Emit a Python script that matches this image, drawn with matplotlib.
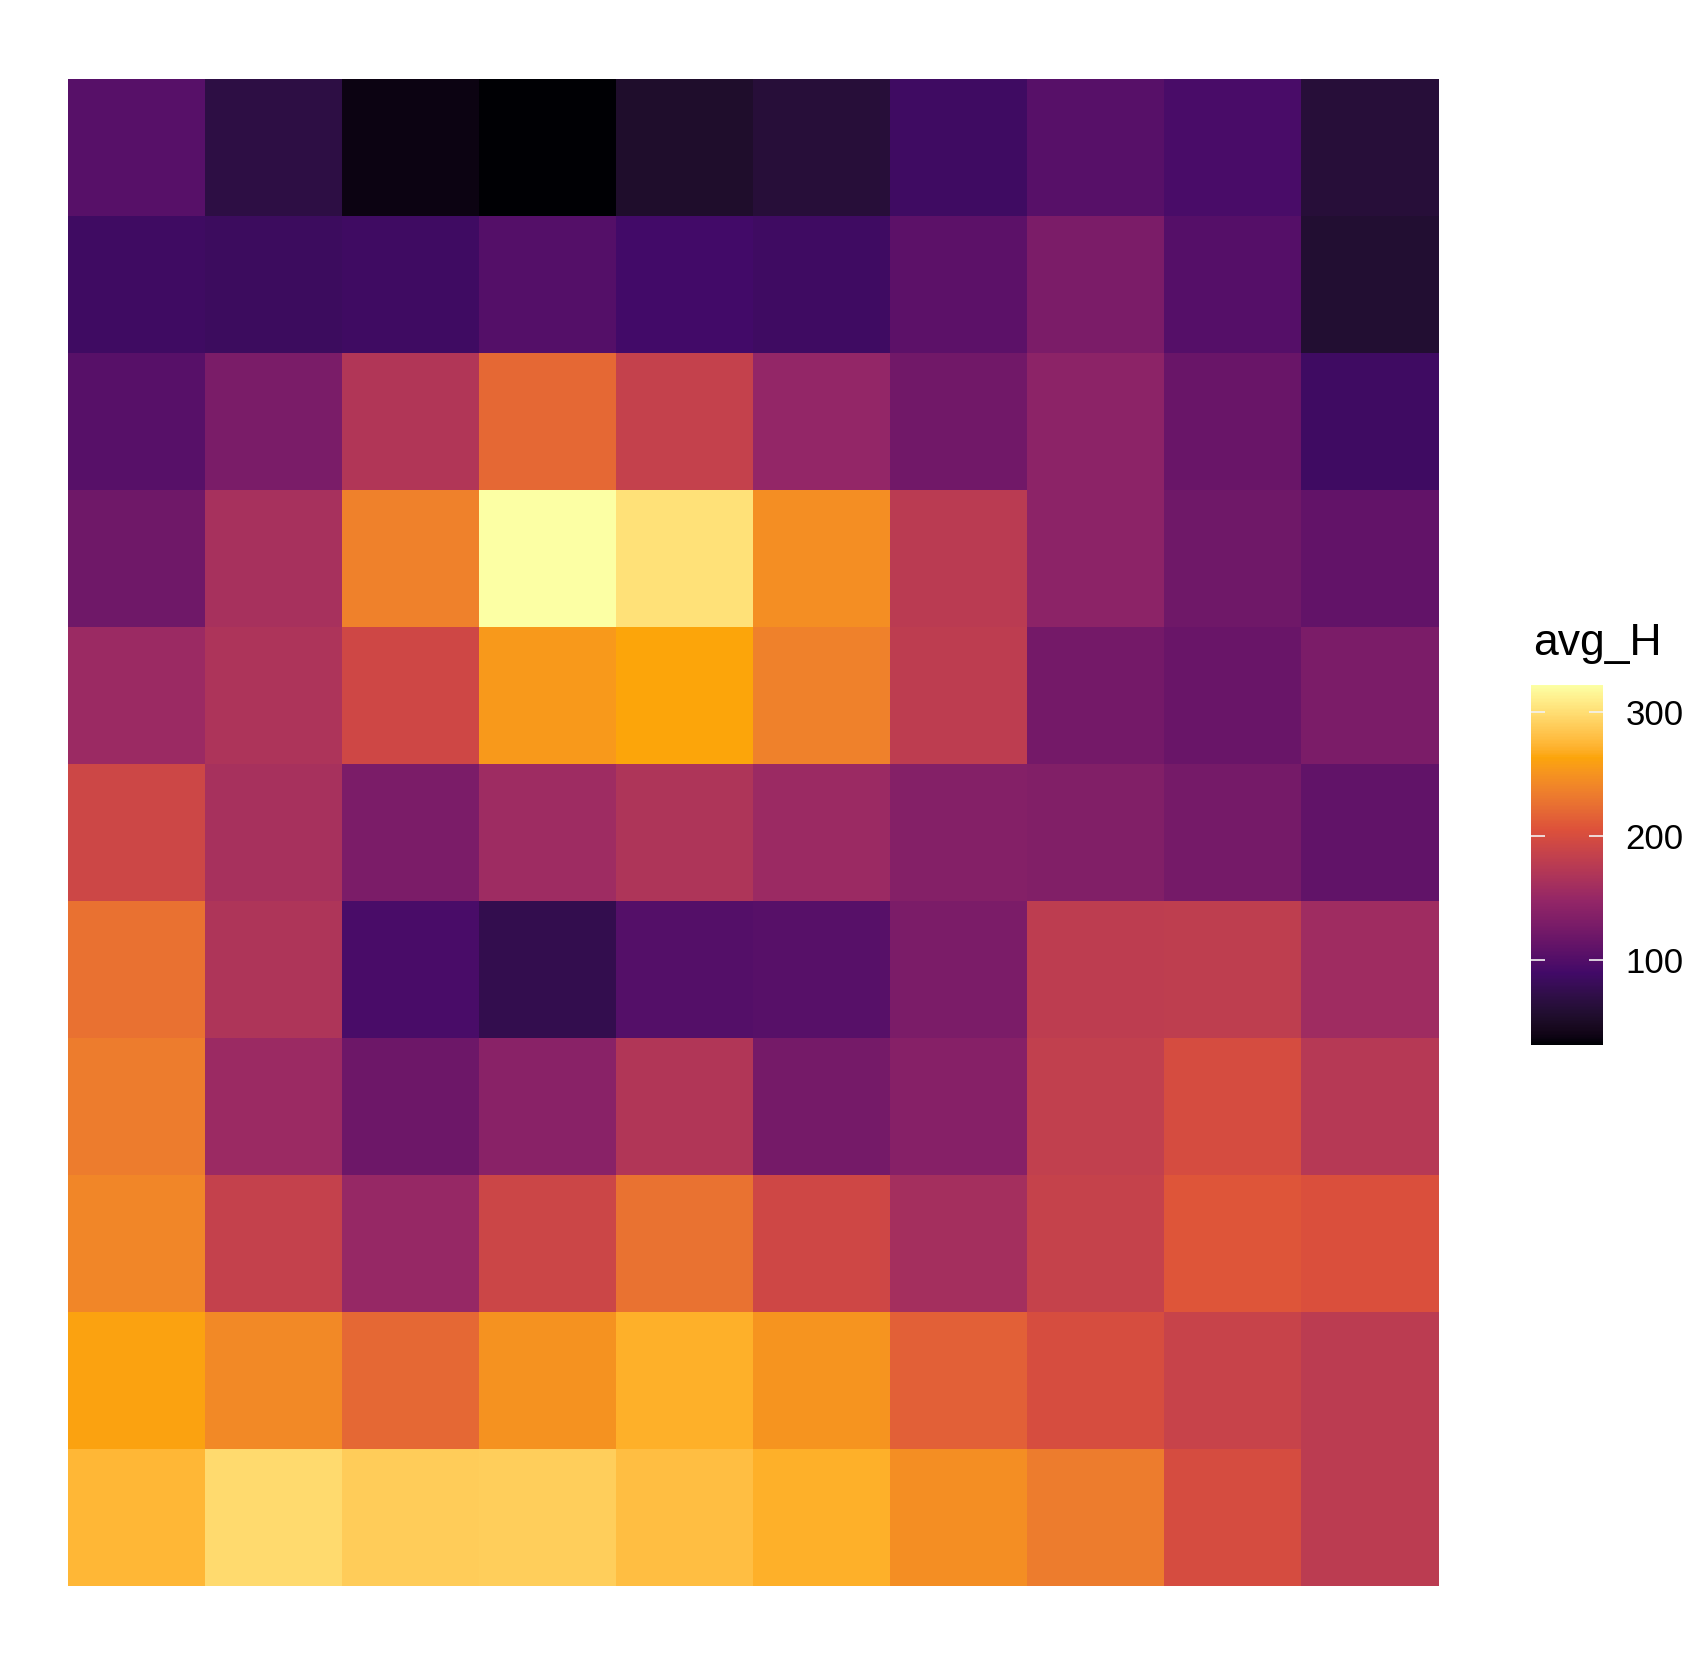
import matplotlib
matplotlib.use("Agg")
import matplotlib.pyplot as plt
from matplotlib.colors import ListedColormap, to_rgb
import numpy as np

plt.rcParams['font.family'] = ['Liberation Sans', 'DejaVu Sans']

# avg_H per grid cell, rows listed top to bottom, columns left to right
row01 = [104, 69, 38, 31.5, 55, 63, 87, 104, 95, 63]
row02 = [87, 84, 86, 101, 90, 87, 107, 130, 102, 58]
row03 = [104, 128, 171, 220, 185, 148, 122, 142, 116, 86]
row04 = [121, 162, 238, 322, 302, 246, 177, 142, 121, 111]
row05 = [154, 167, 193, 255, 264, 237, 180, 124, 116, 130]
row06 = [192, 163, 130, 156, 168, 153, 137, 134, 125, 110]
row07 = [226, 168, 95, 75, 101, 103, 130, 180, 181, 157]
row08 = [234, 154, 119, 140, 170, 125, 138, 183, 199, 174]
row09 = [241, 185, 150, 191, 227, 193, 160, 186, 208, 203]
row10 = [261, 243, 220, 250, 270, 251, 215, 200, 188, 178]
row11 = [275, 298, 289, 290, 279, 270, 246, 234, 199, 179]

legend_title = "avg_H"
cbar_ticks = [100, 200, 300]

# six inferno anchor colours, blended in CIELAB like ggplot's gradient
anchors = ["#000004", "#420A68", "#932667", "#DD513A", "#FCA50A", "#FCFFA4"]

M = np.array([[0.4124, 0.3576, 0.1805],
              [0.2126, 0.7152, 0.0722],
              [0.0193, 0.1192, 0.9505]])
white = np.array([0.95047, 1.0, 1.08883])


def rgb_to_lab(rgb):
    rgb = np.asarray(rgb)
    lin = np.where(rgb <= 0.04045, rgb / 12.92, ((rgb + 0.055) / 1.055) ** 2.4)
    xyz = lin @ M.T / white
    f = np.where(xyz > (6 / 29) ** 3, np.cbrt(xyz), xyz / (3 * (6 / 29) ** 2) + 4 / 29)
    L = 116 * f[..., 1] - 16
    a = 500 * (f[..., 0] - f[..., 1])
    b = 200 * (f[..., 1] - f[..., 2])
    return np.stack([L, a, b], axis=-1)


def lab_to_rgb(lab):
    fy = (lab[..., 0] + 16) / 116
    fx = fy + lab[..., 1] / 500
    fz = fy - lab[..., 2] / 200
    f = np.stack([fx, fy, fz], axis=-1)
    xyz = np.where(f > 6 / 29, f ** 3, 3 * (6 / 29) ** 2 * (f - 4 / 29)) * white
    lin = xyz @ np.linalg.inv(M).T
    lin = np.clip(lin, 0, 1)
    rgb = np.where(lin <= 0.0031308, lin * 12.92, 1.055 * lin ** (1 / 2.4) - 0.055)
    return np.clip(rgb, 0, 1)


anchor_lab = rgb_to_lab([to_rgb(c) for c in anchors])
pos = np.linspace(0, 1, len(anchors))
t = np.linspace(0, 1, 256)
lab = np.stack([np.interp(t, pos, anchor_lab[:, k]) for k in range(3)], axis=-1)
cmap = ListedColormap(lab_to_rgb(lab))

grid = np.array([row01, row02, row03, row04, row05, row06,
                 row07, row08, row09, row10, row11])

fig = plt.figure(figsize=(16.87, 16.66), dpi=100)
ax = fig.add_axes([0.0402, 0.048, 0.8125, 0.9046])
mesh = ax.pcolormesh(grid[::-1], cmap=cmap,
                     vmin=grid.min(), vmax=grid.max())
ax.set_xlim(0, grid.shape[1])
ax.set_ylim(0, grid.shape[0])
ax.set_axis_off()

# colour bar on the right
cax = fig.add_axes([0.9075, 0.3727, 0.0427, 0.2161])
cbar = fig.colorbar(mesh, cax=cax, ticks=cbar_ticks)
cbar.outline.set_visible(False)
cax.tick_params(axis='y', direction='in', color='#f2f2f2', length=10,
                width=1.2, left=True, right=True, labelleft=False,
                labelright=True, labelsize=25, pad=16)
fig.text(0.9085, 0.614, legend_title, fontsize=32, ha='left', va='center')

fig.savefig("out.png", dpi=100)
